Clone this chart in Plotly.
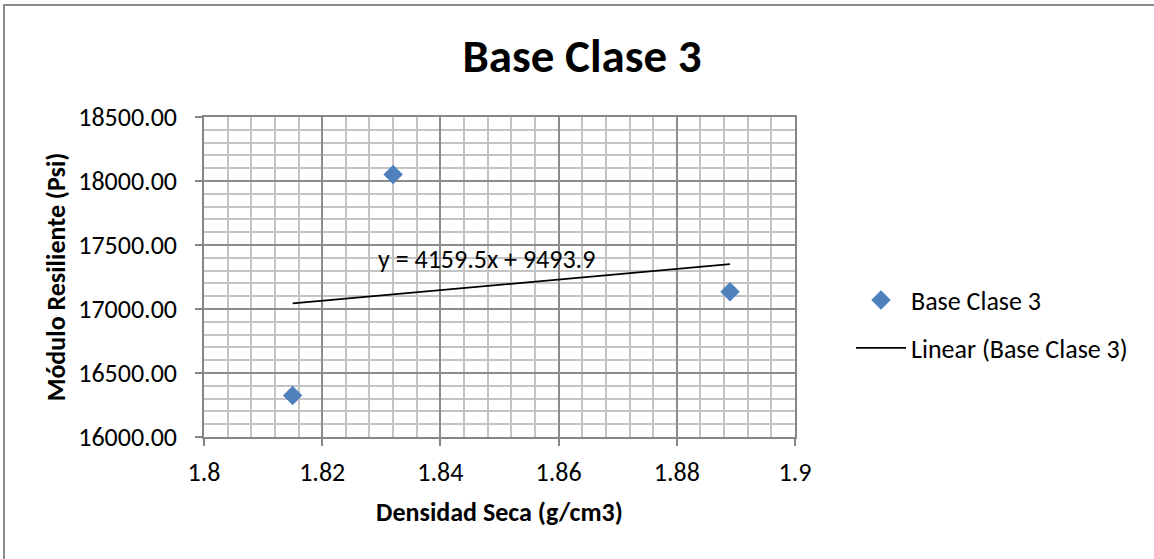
"""
Base Clase 3 - Modulo Resiliente vs Densidad Seca (Excel-style scatter)
"""
import plotly.graph_objects as go

# data
densidad = [1.815, 1.832, 1.889]
modulo = [16325.0, 18050.0, 17135.0]
series_name = "Base Clase 3"

# linear trendline as printed on the chart
slope = 4159.5
intercept = 9493.9

x_ticks = [1.8, 1.82, 1.84, 1.86, 1.88, 1.9]
y_ticks = [16000, 16500, 17000, 17500, 18000, 18500]

FONT = "Carlito, Calibri, Lato, sans-serif"
W, H = 1154, 559
L, R, T, B = 204, 795, 117, 437   # plot area in pixels


def px_x(p):
    return (p - L) / (R - L)


def px_y(p):
    return (B - p) / (B - T)


trend_x = [min(densidad), max(densidad)]
trend_y = [slope * v + intercept for v in trend_x]

fig = go.Figure()

fig.add_trace(go.Scatter(
    x=densidad,
    y=modulo,
    mode="markers",
    name=series_name,
    marker=dict(symbol="diamond", size=15, color="#4F81BD"),
    legend="legend",
))

fig.add_trace(go.Scatter(
    x=trend_x,
    y=trend_y,
    mode="lines",
    name=f"Linear ({series_name})",
    line=dict(color="black", width=1.8),
    legend="legend2",
))

fig.add_annotation(
    x=px_x(376), y=px_y(259), xref="paper", yref="paper",
    xanchor="left", yanchor="middle", showarrow=False,
    text=f"y = {slope}x + {intercept}",
    font=dict(family=FONT, size=26, color="black"),
)

# chart-area border (only left/top visible in the crop)
fig.add_shape(
    type="rect", xref="paper", yref="paper",
    x0=px_x(4), x1=px_x(1170), y0=px_y(5), y1=px_y(580),
    line=dict(color="#8c8c8c", width=2), fillcolor="rgba(0,0,0,0)",
    layer="below",
)

axis_common = dict(
    showline=True, linecolor="#868686", linewidth=1.5, mirror=True,
    showgrid=True, gridcolor="#8c8c8c", gridwidth=1.5,
    ticks="outside", ticklen=7, tickcolor="#868686", tickwidth=1.5,
    zeroline=False,
    tickfont=dict(family=FONT, size=26, color="black"),
)

fig.update_xaxes(
    range=[1.8, 1.9], tickvals=x_ticks,
    ticktext=[f"{v:g}" for v in x_ticks],
    minor=dict(dtick=0.004, showgrid=True, gridcolor="#c4c4c4", gridwidth=2, ticks=""),
    ticklabelstandoff=4,
    title=dict(text="<b>Densidad Seca (g/cm3)</b>", standoff=16,
               font=dict(family=FONT, size=26, color="black")),
    **axis_common,
)

fig.update_yaxes(
    range=[16000, 18500], tickvals=y_ticks,
    ticktext=[f"{v:.2f}" for v in y_ticks],
    minor=dict(dtick=100, showgrid=True, gridcolor="#c4c4c4", gridwidth=2, ticks=""),
    ticklabelstandoff=13,
    title=dict(text="<b>Módulo Resiliente (Psi)</b>", standoff=5,
               font=dict(family=FONT, size=26, color="black")),
    **axis_common,
)

legend_common = dict(
    xanchor="left", yanchor="middle", itemwidth=50,
    font=dict(family=FONT, size=26, color="black"),
    bgcolor="rgba(0,0,0,0)",
)

fig.update_layout(
    width=W, height=H,
    margin=dict(l=L, r=W - R, t=T, b=H - B),
    paper_bgcolor="white", plot_bgcolor="white",
    title=dict(text="<b>Base Clase 3</b>", x=582 / W, xref="container", xanchor="center",
               y=1 - 56 / H, yanchor="middle",
               font=dict(family=FONT, size=47, color="black")),
    legend=dict(x=px_x(851), y=px_y(300), **legend_common),
    legend2=dict(x=px_x(851), y=px_y(348), **legend_common),
    showlegend=True,
)

# drop the browser's default body margin so the figure sits at (0, 0)
fig.write_html("out.html", config={"displayModeBar": False},
               post_script="document.body.style.margin='0';")
